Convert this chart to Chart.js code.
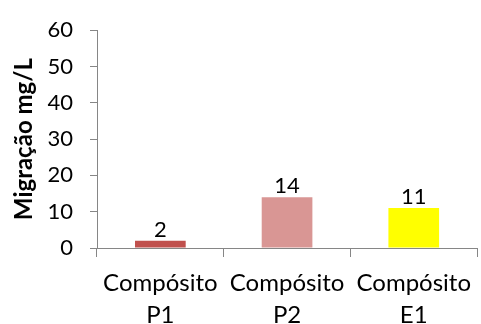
<!DOCTYPE html>
<html>
<head>
<meta charset="utf-8">
<script src="https://cdn.jsdelivr.net/npm/chart.js@4/dist/chart.umd.min.js"></script>
<style>
  html, body { margin: 0; padding: 0; background: #ffffff; }
  #wrap { width: 481px; height: 324px; }
</style>
</head>
<body>
<div id="wrap"><canvas id="c" width="481" height="324"></canvas></div>
<script>
// Migration results per composite sample (mg/L)
const categories = [['Compósito', 'P1'], ['Compósito', 'P2'], ['Compósito', 'E1']];
const migration = [2, 14, 11];
const barColors = ['#C0504D', '#D99694', '#FFFF00'];
const yTitle = 'Migração mg/L';
const yMin = 0, yMax = 60, yStep = 10;

const FONT = 'Lato, Carlito, Calibri, sans-serif';
const AXIS = '#868686';

// Writes each bar's value just above its top edge
const valueLabels = {
  id: 'valueLabels',
  afterDatasetsDraw(chart) {
    const ctx = chart.ctx;
    const meta = chart.getDatasetMeta(0);
    ctx.save();
    ctx.font = '22px ' + FONT;
    ctx.fillStyle = '#000000';
    ctx.textAlign = 'center';
    ctx.textBaseline = 'alphabetic';
    meta.data.forEach((bar, i) => {
      ctx.fillText(String(migration[i]), bar.x, bar.y - 4);
    });
    ctx.restore();
  }
};

new Chart(document.getElementById('c'), {
  type: 'bar',
  data: {
    labels: categories,
    datasets: [{
      data: migration,
      backgroundColor: barColors,
      borderWidth: 0,
      barPercentage: 0.4,
      categoryPercentage: 1.0
    }]
  },
  options: {
    responsive: false,
    animation: false,
    layout: { padding: { top: 24, right: 0, bottom: 0, left: 0 } },
    plugins: {
      legend: { display: false },
      tooltip: { enabled: false }
    },
    scales: {
      x: {
        offset: true,
        grid: {
          offset: true,
          drawOnChartArea: false,
          color: AXIS,
          tickLength: 9,
          lineWidth: 1
        },
        border: { color: AXIS, width: 1 },
        ticks: {
          color: '#000000',
          padding: 10,
          maxRotation: 0,
          autoSkip: false,
          font: { family: FONT, size: 24, lineHeight: '32px' }
        },
        afterFit(scale) { scale.height = 76; }
      },
      y: {
        min: yMin,
        max: yMax,
        grid: {
          drawOnChartArea: false,
          color: AXIS,
          tickLength: 7,
          lineWidth: 1
        },
        border: { color: AXIS, width: 1 },
        ticks: {
          stepSize: yStep,
          color: '#000000',
          padding: 17,
          font: { family: FONT, size: 22 }
        },
        title: {
          display: true,
          text: yTitle,
          color: '#000000',
          font: { family: FONT, size: 24, weight: 'bold', lineHeight: 1.2 },
          padding: { top: 10, bottom: 0 }
        },
        afterFit(scale) { scale.width = 97; }
      }
    }
  },
  plugins: [valueLabels]
});
</script>
</body>
</html>
